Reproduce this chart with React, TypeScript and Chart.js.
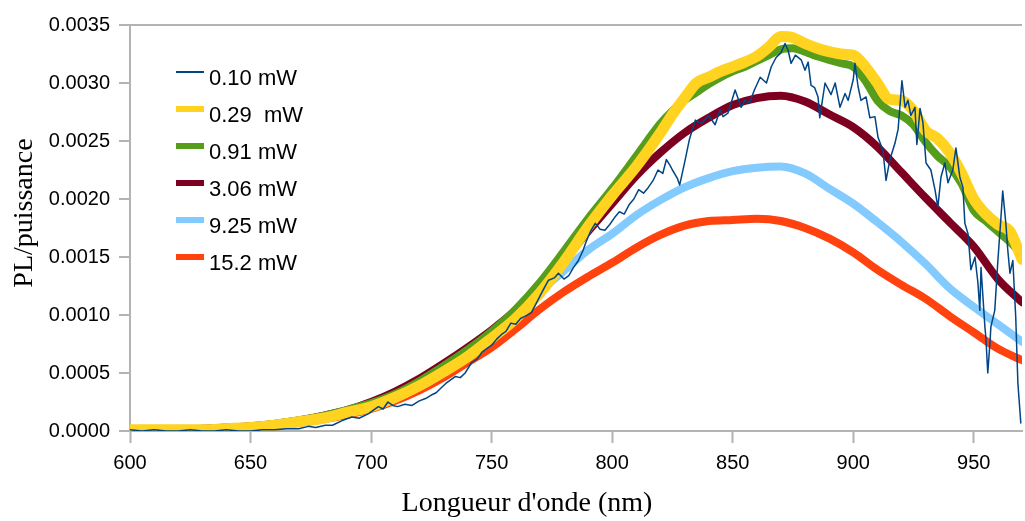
import React, { useEffect, useRef } from "react";
import { Chart, registerables } from "chart.js";

Chart.register(...registerables);

const seriesLabels = ["0.10 mW", "0.29  mW", "0.91 mW", "3.06 mW", "9.25 mW", "15.2 mW"];
const seriesColors = ["#004586", "#ffd320", "#579d1c", "#7e0021", "#83caff", "#ff420e"];

const xTickValues = [600, 650, 700, 750, 800, 850, 900, 950];
const yTickValues = [0, 0.0005, 0.001, 0.0015, 0.002, 0.0025, 0.003, 0.0035];

const xTitle = "Longueur d'onde (nm)";
const yTitle = "PL/puissance";

// 10 nm grid used by the smooth high-power series
const wlA = [600, 610, 620, 630, 640, 650, 660, 670, 680, 690, 700, 710, 720, 730, 740, 750, 760, 770, 780, 790, 800, 810, 820, 830, 840, 850, 860, 870, 880, 890, 900, 910, 920, 930, 940, 950, 960, 970];

// finer grid near the peak for the bumpier low-power series
const wlB = [600, 610, 620, 630, 640, 650, 660, 670, 680, 690, 700, 710, 720, 730, 740, 750, 760, 770, 780, 790, 800, 810, 820, 825, 830, 835, 840, 845, 850, 855, 860, 865, 870, 875, 880, 885, 890, 895, 900, 905, 910, 915, 920, 925, 930, 935, 940, 945, 950, 955, 960, 965, 970];

const p029 = [0.00001, 0.00001, 0.00001, 0.00001, 0.00002, 0.00003, 0.00005, 0.00008, 0.00011, 0.00016, 0.00021, 0.00029, 0.00039, 0.00051, 0.00064, 0.0008, 0.00097, 0.00119, 0.00146, 0.00176, 0.00203, 0.00228, 0.00257, 0.00273, 0.00287, 0.003, 0.00305, 0.0031, 0.00314, 0.00318, 0.00323, 0.00331, 0.0034, 0.00339, 0.00334, 0.0033, 0.00327, 0.00325, 0.00324, 0.00314, 0.003, 0.00286, 0.00285, 0.00276, 0.00259, 0.00252, 0.0024, 0.00222, 0.002, 0.00187, 0.00178, 0.00172, 0.00148];

const p091 = [0.00001, 0.00001, 0.00001, 0.00001, 0.00002, 0.00004, 0.00006, 0.00009, 0.00013, 0.00018, 0.00024, 0.00032, 0.00043, 0.00056, 0.0007, 0.00086, 0.00105, 0.00128, 0.00155, 0.00183, 0.00209, 0.00237, 0.00265, 0.00276, 0.00285, 0.00292, 0.00299, 0.00305, 0.0031, 0.00314, 0.00319, 0.00324, 0.00329, 0.0033, 0.00327, 0.00323, 0.0032, 0.00317, 0.00314, 0.00302, 0.00285, 0.00276, 0.00272, 0.00264, 0.00249, 0.00237, 0.00228, 0.00213, 0.0019, 0.00181, 0.00172, 0.00163, 0.00152];

const p306 = [0.00001, 0.00001, 0.00001, 0.00002, 0.00003, 0.00004, 0.00006, 0.00009, 0.00013, 0.00018, 0.00025, 0.00034, 0.00045, 0.00058, 0.00072, 0.00087, 0.00104, 0.00124, 0.00147, 0.00172, 0.00196, 0.0022, 0.0024, 0.00257, 0.0027, 0.00281, 0.00287, 0.00289, 0.00284, 0.00273, 0.00262, 0.00245, 0.00223, 0.00201, 0.0018, 0.00159, 0.00131, 0.00111];

const p925 = [0, 0, 0.00001, 0.00001, 0.00002, 0.00003, 0.00005, 0.00008, 0.00011, 0.00015, 0.00021, 0.00028, 0.00038, 0.0005, 0.00064, 0.0008, 0.001, 0.0012, 0.00138, 0.00156, 0.0017, 0.00186, 0.00199, 0.0021, 0.00218, 0.00224, 0.00227, 0.00228, 0.00222, 0.00209, 0.00196, 0.0018, 0.00163, 0.00144, 0.00123, 0.00107, 0.00092, 0.00077];

const p152 = [0, 0, 0.00001, 0.00001, 0.00002, 0.00003, 0.00005, 0.00007, 0.0001, 0.00014, 0.00019, 0.00026, 0.00035, 0.00046, 0.00059, 0.00072, 0.00088, 0.00105, 0.0012, 0.00133, 0.00145, 0.00158, 0.00169, 0.00177, 0.00181, 0.00182, 0.00183, 0.00181, 0.00175, 0.00166, 0.00154, 0.00139, 0.00126, 0.00114, 0.00099, 0.00085, 0.00071, 0.00061];

// noisy lowest-power trace, read point by point
const wl010 = [600, 605, 610, 615, 620, 625, 630, 635, 640, 645, 650, 655, 660, 665, 670, 674, 677, 681, 684, 688, 692, 695, 699, 703, 705, 707, 709, 711, 714, 717, 720, 722.6, 725, 727, 729, 731, 733, 735, 737, 739, 741.7, 744, 746, 748, 750, 752, 754, 756, 758, 760, 762, 764, 766.5, 768, 770, 772, 773.6, 776, 777.7, 780, 782, 784, 786, 788, 789, 791, 793, 795, 797, 799, 801, 803, 805, 807, 809, 811, 813, 815, 817, 819, 821, 822.5, 824, 825, 827, 828, 830, 832, 834.5, 837, 840, 842.7, 844.8, 846, 848, 851, 853.5, 855, 857, 859, 861.4, 864, 866, 868, 870, 871.7, 873, 874.2, 876, 878.4, 880, 881.3, 882.5, 884, 885.4, 886.1, 888.3, 890.8, 892.5, 894.5, 896.6, 897.9, 900, 900.7, 902, 903.2, 905.3, 906.9, 909, 910.3, 912.3, 913.6, 915.2, 917.3, 918.6, 920.2, 921.5, 922.7, 923.9, 925.6, 926.4, 927.7, 928.9, 930.2, 932.2, 933.9, 935.1, 936.4, 938, 939.3, 941.3, 942.6, 944.2, 945.5, 946.3, 947.6, 948.8, 950.5, 951.7, 952.5, 953, 954.6, 955, 955.8, 956.7, 957.1, 958.7, 960, 961.2, 962, 963.3, 964.1, 965, 966.2, 967.4, 968.3, 969.5];

const p010 = [0.00001, 0, 0.00001, 0, 0, 0.00001, 0, 0, 0.00001, 0, 0, 0.00001, 0.00001, 0.00002, 0.00002, 0.00004, 0.00003, 0.00005, 0.00005, 0.00009, 0.00012, 0.00011, 0.00015, 0.00021, 0.00019, 0.00025, 0.00022, 0.00021, 0.00023, 0.00022, 0.00026, 0.00028, 0.00031, 0.00033, 0.00037, 0.00041, 0.00044, 0.00047, 0.00046, 0.0005, 0.00059, 0.00062, 0.00068, 0.00071, 0.00074, 0.00079, 0.00083, 0.00086, 0.00093, 0.00092, 0.00097, 0.00099, 0.00102, 0.00108, 0.00116, 0.00124, 0.0013, 0.00132, 0.00136, 0.00131, 0.00134, 0.00141, 0.00147, 0.00156, 0.00162, 0.00172, 0.00179, 0.00174, 0.00173, 0.00178, 0.00184, 0.00189, 0.00187, 0.00195, 0.002, 0.00208, 0.00205, 0.0021, 0.00216, 0.00225, 0.00222, 0.00234, 0.00229, 0.00225, 0.00218, 0.00212, 0.00231, 0.00251, 0.00268, 0.00265, 0.00272, 0.00264, 0.00277, 0.00271, 0.00274, 0.00294, 0.00279, 0.00285, 0.00283, 0.00294, 0.00305, 0.003, 0.00314, 0.00322, 0.00326, 0.00334, 0.00328, 0.00317, 0.00324, 0.0032, 0.00311, 0.00318, 0.00298, 0.00296, 0.00288, 0.0027, 0.003, 0.0029, 0.003, 0.00279, 0.00291, 0.00285, 0.00303, 0.00317, 0.00297, 0.00285, 0.00288, 0.0027, 0.00271, 0.00253, 0.00242, 0.00216, 0.00234, 0.00248, 0.0026, 0.00302, 0.00279, 0.00285, 0.00272, 0.00279, 0.00247, 0.00278, 0.00266, 0.00231, 0.00225, 0.00208, 0.00193, 0.00219, 0.00231, 0.00214, 0.00225, 0.00244, 0.00219, 0.0021, 0.00179, 0.0017, 0.00139, 0.0015, 0.00128, 0.00104, 0.00141, 0.0009, 0.00081, 0.0005, 0.00076, 0.0009, 0.00104, 0.00147, 0.00182, 0.00207, 0.00179, 0.00156, 0.00136, 0.00147, 0.00098, 0.00041, 0.00007];

const AXIS_GREY = "#b3b3b3";
const SANS = "'Liberation Sans', Arial, sans-serif";
const SERIF = "'Liberation Serif', 'Times New Roman', serif";

function pts(xs: number[], ys: number[]) {
  return xs.map((x, i) => ({ x, y: ys[i] }));
}

const overlayPlugin = {
  id: "overlay",
  afterDraw(chart: any) {
    const ctx = chart.ctx;
    ctx.save();
    // legend
    const ds = chart.data.datasets;
    ctx.font = `22px ${SANS}`;
    ctx.textAlign = "left";
    ctx.textBaseline = "alphabetic";
    for (let i = 0; i < ds.length; i++) {
      const baseY = 85 + i * 37;
      const swY = baseY - 13;
      ctx.fillStyle = ds[i].borderColor;
      const h = i === 0 ? 2 : 6;
      ctx.fillRect(176, swY - h / 2, 28, h);
      ctx.fillStyle = "#000";
      ctx.fillText(ds[i].label, 209, baseY);
    }
    // axis titles
    ctx.font = `28px ${SERIF}`;
    ctx.fillStyle = "#000";
    ctx.textAlign = "center";
    ctx.textBaseline = "alphabetic";
    ctx.fillText(xTitle, 527, 511);
    ctx.translate(32, 213);
    ctx.rotate(-Math.PI / 2);
    ctx.fillText(yTitle, 0, 0);
    ctx.restore();
  },
};

export default function App() {
  const canvasRef = useRef<HTMLCanvasElement | null>(null);

  useEffect(() => {
    if (!canvasRef.current) return;
    const widths = [1.5, 11, 8, 8, 8, 8];
    const data = [
      pts(wl010, p010),
      pts(wlB, p029),
      pts(wlB, p091),
      pts(wlA, p306),
      pts(wlA, p925),
      pts(wlA, p152),
    ];
    const chart = new Chart(canvasRef.current, {
      type: "line",
      data: {
        datasets: seriesLabels.map((label, i) => ({
          label,
          data: data[i],
          borderColor: seriesColors[i],
          backgroundColor: seriesColors[i],
          borderWidth: widths[i],
          pointRadius: 0,
          fill: false,
          tension: i === 0 ? 0 : 0.35,
          cubicInterpolationMode: i === 0 ? "default" : "monotone",
          borderJoinStyle: "round",
          borderCapStyle: "round",
        })),
      },
      options: {
        animation: false,
        responsive: false,
        parsing: false as any,
        layout: { padding: { top: 25, right: 3, bottom: 0, left: 0 } },
        plugins: {
          legend: { display: false },
          tooltip: { enabled: false },
          title: { display: false },
        },
        scales: {
          x: {
            type: "linear",
            min: 600,
            max: 970,
            afterBuildTicks: (scale: any) => {
              scale.ticks = xTickValues.map((v) => ({ value: v }));
            },
            afterFit: (scale: any) => {
              scale.height = 90;
            },
            grid: {
              display: true,
              drawOnChartArea: false,
              tickLength: 12,
              tickColor: AXIS_GREY,
              tickWidth: 2,
              color: AXIS_GREY,
            },
            border: { display: true, color: AXIS_GREY, width: 2 },
            ticks: {
              color: "#000",
              font: { family: SANS, size: 20 },
              padding: 8,
              maxRotation: 0,
              autoSkip: false,
              callback: (v: any) => String(v),
            },
          },
          y: {
            type: "linear",
            min: 0,
            max: 0.0035,
            afterBuildTicks: (scale: any) => {
              scale.ticks = yTickValues.map((v) => ({ value: v }));
            },
            afterFit: (scale: any) => {
              scale.width = 130;
            },
            grid: {
              display: true,
              drawOnChartArea: true,
              tickLength: 11,
              tickColor: AXIS_GREY,
              tickWidth: 2,
              lineWidth: 2,
              color: (c: any) =>
                c.tick && c.tick.value === yTickValues[yTickValues.length - 1]
                  ? AXIS_GREY
                  : "rgba(0,0,0,0)",
            },
            border: { display: true, color: AXIS_GREY, width: 2 },
            ticks: {
              color: "#000",
              font: { family: SANS, size: 20 },
              padding: 9,
              autoSkip: false,
              callback: (v: any) => Number(v).toFixed(4),
            },
          },
        },
      } as any,
      plugins: [overlayPlugin],
    });
    return () => chart.destroy();
  }, []);

  return (
    <div style={{ position: "absolute", left: 0, top: 0, width: 1025, height: 521, background: "#fff" }}>
      <canvas ref={canvasRef} width={1025} height={521} style={{ width: 1025, height: 521 }} />
    </div>
  );
}
